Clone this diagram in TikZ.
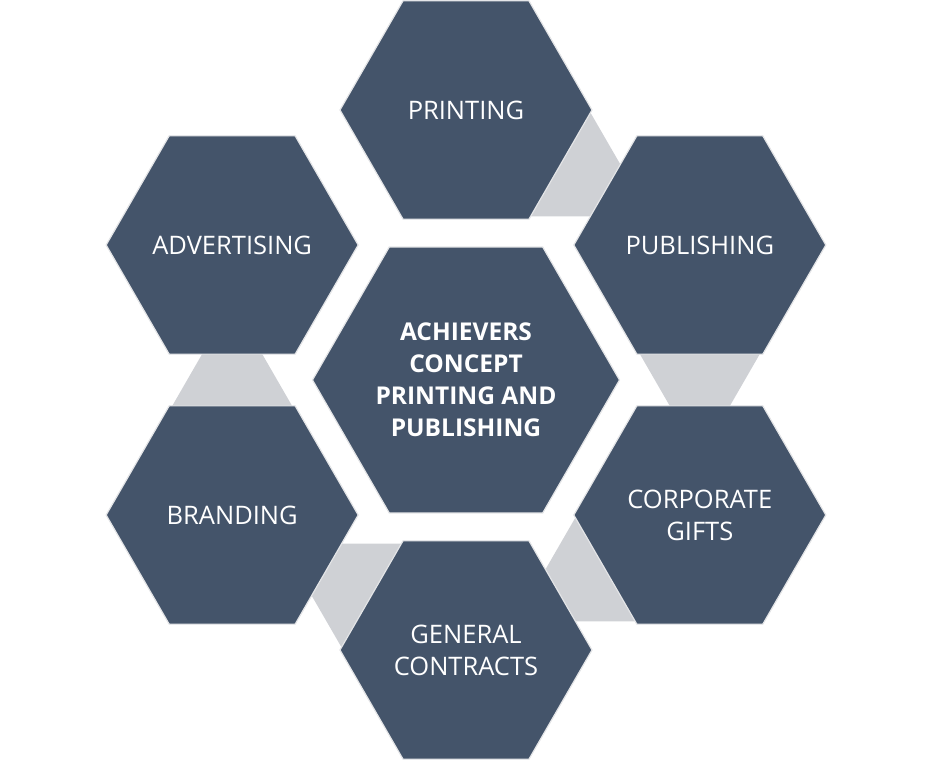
\documentclass[tikz,border=0pt]{standalone}
\usepackage{fontspec}
\setmainfont{Open Sans}
\usetikzlibrary{shapes.geometric,backgrounds,calc}

\definecolor{slate}{HTML}{44546A}
\definecolor{linkgrey}{HTML}{CFD1D5}
\definecolor{rimgrey}{HTML}{E4E5E7}

\tikzset{
  hexcell/.style={regular polygon, regular polygon sides=6, minimum size=252pt, inner sep=-30pt,
    fill=slate, draw=rimgrey, line width=1.2pt, text=white, align=center,
    font=\fontsize{25.5pt}{32pt}\selectfont},
  corecell/.style={hexcell, minimum size=307pt, font=\fontsize{24.5pt}{32pt}\selectfont\bfseries},
  link/.style={fill=linkgrey}
}

\begin{document}
\begin{tikzpicture}[x=1pt,y=1pt]
\useasboundingbox (-466,-380) rectangle (466,380);
\node[corecell] (core) at (0,0) {ACHIEVERS\\CONCEPT\\PRINTING AND\\PUBLISHING};
\node[hexcell] (printing)    at (90:270)   {PRINTING};
\node[hexcell] (publishing)  at (30:270)   {PUBLISHING};
\node[hexcell] (gifts)       at (-30:270)  {CORPORATE\\GIFTS};
\node[hexcell] (contracts)   at (-90:270)  {GENERAL\\CONTRACTS};
\node[hexcell] (branding)    at (-150:270) {BRANDING};
\node[hexcell] (advertising) at (150:270)  {ADVERTISING};

% grey links between neighbours, behind the cells
\begin{scope}[on background layer]
\foreach \a/\b/\r in {printing/publishing/60, publishing/gifts/0, gifts/contracts/-60,
                      contracts/branding/-120, branding/advertising/180}
  \path[link, shift={($(\a)!.5!(\b)$)}, rotate=\r] (-60,26) -- (60,26) -- (30,-26) -- (-30,-26) -- cycle;
\end{scope}
\end{tikzpicture}
\end{document}
